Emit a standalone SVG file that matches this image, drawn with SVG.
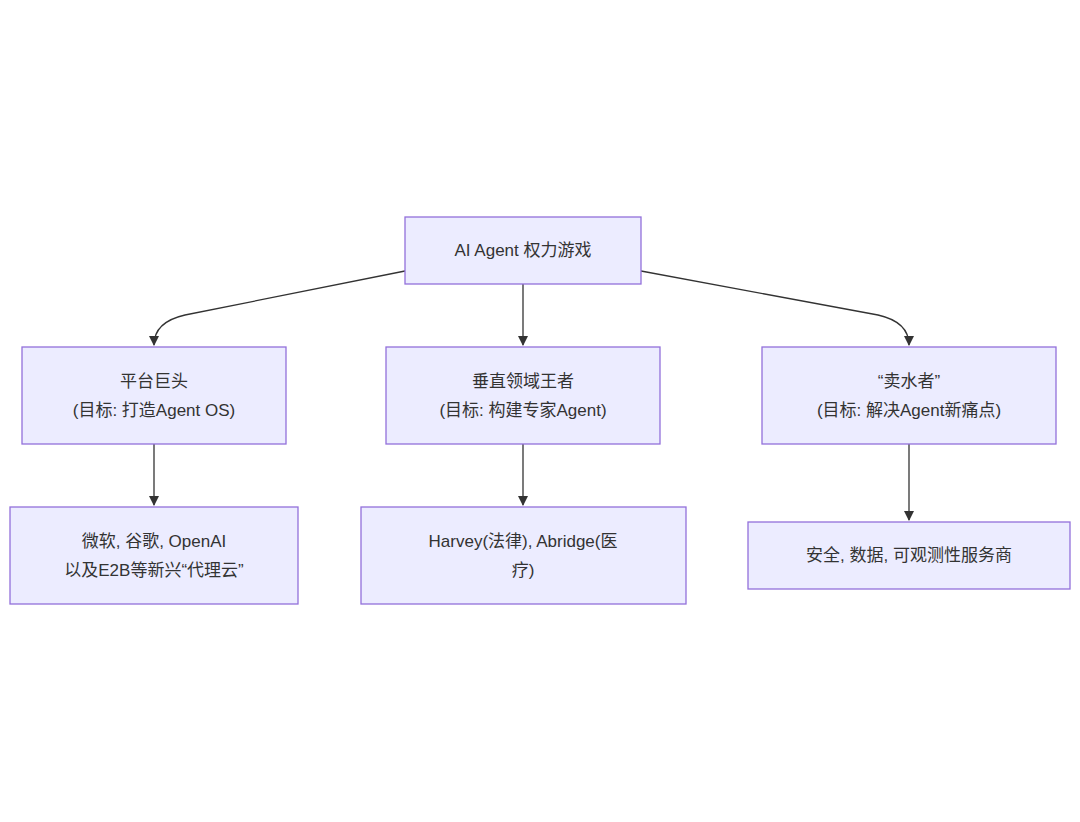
<svg xmlns="http://www.w3.org/2000/svg" width="1080" height="822" viewBox="0 0 1080 822">
<style>
.n rect{fill:#ECECFF;stroke:#9370DB;stroke-width:1.3}
text{font-family:"Liberation Sans","Noto Sans CJK SC",sans-serif;font-size:17px;fill:#333;text-anchor:middle;dominant-baseline:central}
.e path{fill:none;stroke:#333;stroke-width:1.3;marker-end:url(#a)}
</style>
<defs><marker id="a" viewBox="0 0 10 10" refX="9" refY="5" markerWidth="8" markerHeight="8" orient="auto"><path d="M0,0L10,5L0,10z" fill="#333"/></marker></defs>
<rect width="1080" height="822" fill="#fff"/>
<g class="e">
<path d="M405,271 L185,315 Q154,322 154,345"/>
<path d="M523,284 L523,345"/>
<path d="M641,271 L878,315 Q909,322 909,345"/>
<path d="M154,444 L154,505"/>
<path d="M523,444 L523,505"/>
<path d="M909,444 L909,520"/>
</g>
<g id="root" class="n"><rect x="405" y="217" width="236" height="67"/><text x="523" y="250">AI Agent 权力游戏</text></g>
<g id="a" class="n"><rect x="22" y="347" width="264" height="97"/><text x="154" y="381">平台巨头</text><text x="154" y="410">(目标: 打造Agent OS)</text></g>
<g id="b" class="n"><rect x="386" y="347" width="274" height="97"/><text x="523" y="381">垂直领域王者</text><text x="523" y="410">(目标: 构建专家Agent)</text></g>
<g id="c" class="n"><rect x="762" y="347" width="294" height="97"/><text x="909" y="381">“卖水者”</text><text x="909" y="410">(目标: 解决Agent新痛点)</text></g>
<g id="a1" class="n"><rect x="10" y="507" width="288" height="97"/><text x="154" y="541">微软, 谷歌, OpenAI</text><text x="154" y="570">以及E2B等新兴“代理云”</text></g>
<g id="b1" class="n"><rect x="361" y="507" width="325" height="97"/><text x="523" y="541">Harvey(法律), Abridge(医</text><text x="523" y="570">疗)</text></g>
<g id="c1" class="n"><rect x="748" y="522" width="322" height="67"/><text x="909" y="555">安全, 数据, 可观测性服务商</text></g>
</svg>
